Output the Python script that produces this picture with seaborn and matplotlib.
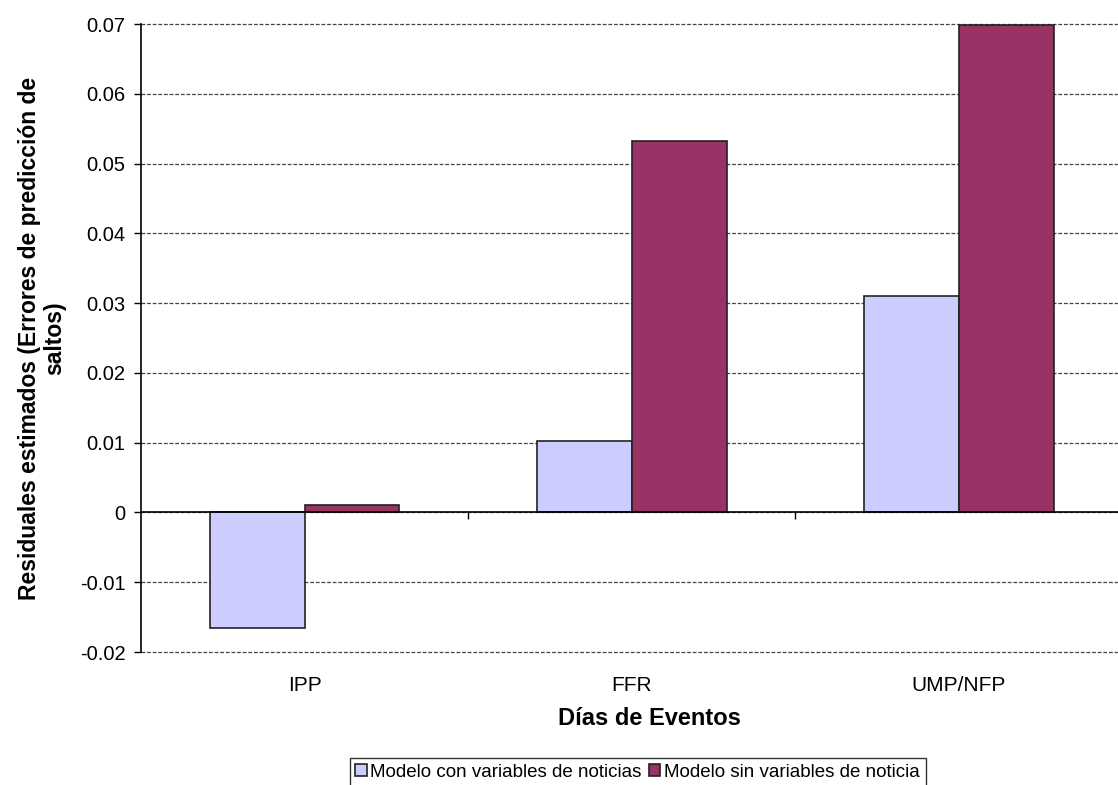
import matplotlib
matplotlib.use("Agg")
import matplotlib.pyplot as plt
import seaborn as sns
import pandas as pd

# Data
categorias = ["IPP", "FFR", "UMP/NFP"]
con_noticias = [-0.0165, 0.0102, 0.0310]
sin_noticias = [0.0011, 0.0532, 0.0698]
series = ["Modelo con variables de noticias", "Modelo sin variables de noticia"]
colores = ["#CCCCFF", "#993366"]

df = pd.DataFrame({
    "cat": categorias * 2,
    "val": con_noticias + sin_noticias,
    "serie": [series[0]] * 3 + [series[1]] * 3,
})

sns.set_style("white")
plt.rcParams["font.family"] = ["Liberation Sans", "DejaVu Sans"]
plt.rcParams["text.color"] = "black"
plt.rcParams["axes.labelcolor"] = "black"
plt.rcParams["xtick.color"] = "black"
plt.rcParams["ytick.color"] = "black"

fig = plt.figure(figsize=(11.18, 7.85), dpi=100)
ax = fig.add_axes([0.1261, 0.1694, 0.878, 0.8000])

sns.barplot(data=df, x="cat", y="val", hue="serie", palette=colores,
            saturation=1, width=0.58, edgecolor="#222222", linewidth=1.2,
            ax=ax, zorder=3)

ax.set_ylim(-0.02, 0.07)
ax.set_xlim(-0.5, 2.5)
ax.set_yticks([i / 100 for i in range(-2, 8)])
ax.set_yticklabels(["-0.02", "-0.01", "0", "0.01", "0.02", "0.03",
                    "0.04", "0.05", "0.06", "0.07"])
ax.yaxis.grid(True, linestyle=(0, (3, 1.5)), color="#444444", linewidth=0.9)
for gl in ax.get_ygridlines():
    gl.set_clip_on(False)
ax.set_axisbelow(True)
ax.axhline(0, color="black", linewidth=1.2, zorder=4)
ax.vlines([0.5, 1.5], -0.0009, 0, color="black", linewidth=1, zorder=4)

for s in ["top", "right", "bottom"]:
    ax.spines[s].set_visible(False)
ax.spines["left"].set_color("black")
ax.spines["left"].set_linewidth(1.2)
ax.tick_params(axis="y", left=True, length=5, width=1, labelsize=14.5, pad=6)
ax.tick_params(axis="x", bottom=False, labelsize=15, pad=14)

ax.set_xlabel("Días de Eventos", fontsize=17, fontweight="bold")
ax.xaxis.set_label_coords(0.518, -0.088)
ax.set_ylabel("Residuales estimados (Errores de predicción de\nsaltos)",
              fontsize=16.5, fontweight="bold", labelpad=10, linespacing=1.12)

ax.legend(loc="upper center", bbox_to_anchor=(0.506, -0.169), ncol=2,
          frameon=True, fancybox=False, edgecolor="black", fontsize=13.5,
          handlelength=0.6, handleheight=0.6, handletextpad=0.2,
          columnspacing=0.4, borderpad=0.3, borderaxespad=0)
ax.get_legend().get_frame().set_linewidth(1.0)

plt.savefig("out.png", dpi=100)
